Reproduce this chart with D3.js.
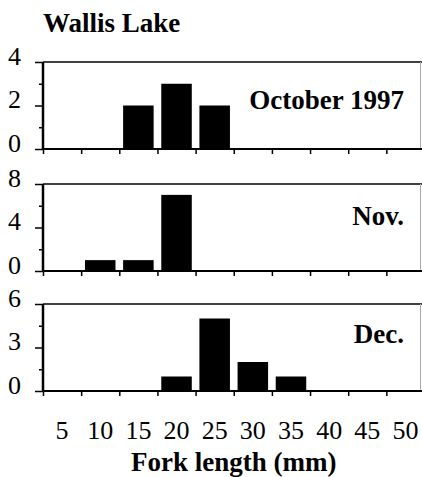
<!DOCTYPE html>
<html>
<head>
<meta charset="utf-8">
<script src="https://cdn.jsdelivr.net/npm/d3@7"></script>
</head>
<body style="margin:0; background:#fff">
<svg id="chart" width="422" height="477" style="display:block"></svg>
<script>
// fork length bins (mm), centre of each 5 mm class
var bins = [5, 10, 15, 20, 25, 30, 35, 40, 45, 50];
var octCounts = [0, 0, 2, 3, 2, 0, 0, 0, 0, 0];
var novCounts = [0, 1, 1, 7, 0, 0, 0, 0, 0, 0];
var decCounts = [0, 0, 0, 1, 5, 2, 1, 0, 0, 0];
var panelNames = ['October 1997', 'Nov.', 'Dec.'];
var yMax = [4, 8, 6];
var yMajor = [[0, 2, 4], [0, 4, 8], [0, 3, 6]];
var yMinor = [[1, 3], [2, 6], [1.5, 4.5]];

var FONT = "'Liberation Serif', serif";

var svg = d3.select('#chart');
var panelTop = [62, 184, 304];
var panelH = 87;
var rightEdge = 421;

var x = d3.scaleLinear()
    .domain([2.5, 52.5])
    .range([43, 424.5]);

var series = [octCounts, novCounts, decCounts];

series.forEach(function(counts, i) {
    var top = panelTop[i];
    var y = d3.scaleLinear()
        .domain([0, yMax[i]])
        .range([top + panelH, top]);

    var g = svg.append('g').attr('class', 'panel');

    // top border and (faint) right edge
    g.append('line')
        .attr('x1', x(2.5)).attr('x2', 422)
        .attr('y1', y(yMax[i])).attr('y2', y(yMax[i]))
        .attr('stroke', '#000').attr('stroke-width', 1.5);
    g.append('line')
        .attr('x1', rightEdge - 0.5).attr('x2', rightEdge - 0.5)
        .attr('y1', y(yMax[i])).attr('y2', y(0))
        .attr('stroke', '#aaa').attr('stroke-width', 1);

    // bars
    var data = bins.map(function(b, j) { return [b, counts[j]]; })
        .filter(function(d) { return d[1] > 0; });
    g.selectAll('rect.bar')
        .data(data)
        .enter().append('rect')
        .attr('class', 'bar')
        .attr('x', function(d) { return x(d[0] - 2); })
        .attr('width', function(d) { return x(d[0] + 2) - x(d[0] - 2); })
        .attr('y', function(d) { return y(d[1]); })
        .attr('height', function(d) { return y(0) - y(d[1]); })
        .attr('fill', '#000');

    // x axis: ticks at class boundaries
    var xAxis = g.append('g')
        .attr('transform', 'translate(0,' + y(0) + ')')
        .call(d3.axisBottom(x)
            .tickValues(bins.map(function(b) { return b - 2.5; }))
            .tickSize(5)
            .tickFormat(''));
    xAxis.select('.domain').remove();
    xAxis.selectAll('.tick line').attr('stroke-width', 1.5);
    g.append('line')
        .attr('x1', x(2.5) - 1).attr('x2', 422)
        .attr('y1', y(0)).attr('y2', y(0))
        .attr('stroke', '#000').attr('stroke-width', 2);

    // y axis
    var yAxis = g.append('g')
        .attr('transform', 'translate(' + x(2.5) + ',0)')
        .call(d3.axisLeft(y)
            .tickValues(yMajor[i])
            .tickFormat(d3.format('d'))
            .tickSize(8)
            .tickPadding(14));
    yAxis.select('.domain').remove();
    yAxis.selectAll('.tick line').attr('stroke-width', 1.5);
    yAxis.selectAll('.tick text')
        .style('font-family', FONT)
        .style('font-size', '26px')
        .attr('dy', '0.08em');
    g.append('g')
        .attr('transform', 'translate(' + x(2.5) + ',0)')
        .call(d3.axisLeft(y).tickValues(yMinor[i]).tickSize(4).tickFormat(''))
        .call(function(s) { s.select('.domain').remove(); })
        .selectAll('.tick line').attr('stroke-width', 1.5);
    g.append('line')
        .attr('x1', x(2.5)).attr('x2', x(2.5))
        .attr('y1', y(yMax[i])).attr('y2', y(0) + 1)
        .attr('stroke', '#000').attr('stroke-width', 2.5);

    // panel label
    g.append('text')
        .attr('x', 404)
        .attr('y', [109, 225, 343][i])
        .attr('text-anchor', 'end')
        .style('font-family', FONT)
        .style('font-weight', 'bold')
        .style('font-size', '27px')
        .text(panelNames[i]);
});

// bin labels under the bottom panel
svg.append('g')
    .selectAll('text')
    .data(bins)
    .enter().append('text')
    .attr('x', function(d) { return x(d); })
    .attr('y', 439)
    .attr('text-anchor', 'middle')
    .style('font-family', FONT)
    .style('font-size', '26px')
    .text(function(d) { return d; });

svg.append('text')
    .attr('x', (x(2.5) + x(52.5)) / 2)
    .attr('y', 471)
    .attr('text-anchor', 'middle')
    .style('font-family', FONT)
    .style('font-weight', 'bold')
    .style('font-size', '27px')
    .text('Fork length (mm)');

svg.append('text')
    .attr('x', 43)
    .attr('y', 32)
    .style('font-family', FONT)
    .style('font-weight', 'bold')
    .style('font-size', '27px')
    .text('Wallis Lake');
</script>
</body>
</html>
